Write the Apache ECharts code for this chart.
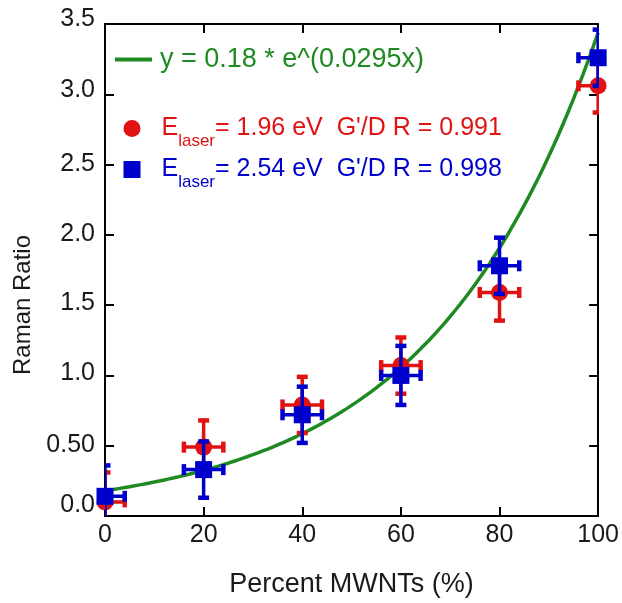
<!DOCTYPE html>
<html>
<head>
<meta charset="utf-8">
<script src="https://cdn.jsdelivr.net/npm/echarts@6/dist/echarts.min.js"></script>
<style>
  html, body { margin: 0; padding: 0; background: #fff; }
  #chart { width: 622px; height: 603px; }
</style>
</head>
<body>
<div id="chart"></div>
<script>
// Raman G'/D ratio versus MWNT content, measured at two laser energies
const percentMWNT = [0, 20, 40, 60, 80, 100];
const percentErr  = [4, 4, 4, 4, 4, 4];

const ratio196 = [0.10, 0.49, 0.79, 1.07, 1.59, 3.06];
const err196   = [0.21, 0.19, 0.20, 0.20, 0.20, 0.19];

const ratio254 = [0.14, 0.33, 0.72, 1.00, 1.78, 3.26];
const err254   = [0.22, 0.20, 0.20, 0.21, 0.20, 0.20];

const laserEnergy = [1.96, 2.54];
const corrR = ['0.991', '0.998'];

// exponential fit y = A * e^(B x)
const fitA = 0.18;
const fitB = 0.0295;

const xTickValues = [0, 20, 40, 60, 80, 100];
const yTickLabels = ['0.0', '0.50', '1.0', '1.5', '2.0', '2.5', '3.0', '3.5'];

const GREEN = '#1f8a22';
const RED = '#e01212';
const BLUE = '#0000cc';
const FONT = '"Liberation Sans", Arial, sans-serif';
const TEXT = '#1a1a1a';

// small upward nudges for individual y tick labels
const yLabelLift = [22, 2, 5, 5, 2, 0, 9, 10];

const fitCurve = [];
for (let x = 0; x <= 100; x += 1) {
  fitCurve.push([x, fitA * Math.exp(fitB * x)]);
}

function errorBarSeries(values, yErr, color, z) {
  return {
    type: 'custom',
    clip: true,
    silent: true,
    z: z,
    xAxisIndex: 0,
    yAxisIndex: 0,
    encode: { x: 0, y: 1 },
    data: percentMWNT.map((x, i) => [x, values[i], percentErr[i], yErr[i]]),
    renderItem(params, api) {
      const x = api.value(0), y = api.value(1);
      const dx = api.value(2), dy = api.value(3);
      const c = api.coord([x, y]);
      const top = api.coord([x, y + dy]);
      const bot = api.coord([x, y - dy]);
      const lft = api.coord([x - dx, y]);
      const rgt = api.coord([x + dx, y]);
      const cap = 5.5;
      const bar = { stroke: color, lineWidth: 3.5 };
      const capStyle = { stroke: color, lineWidth: 4.5 };
      return {
        type: 'group',
        children: [
          { type: 'line', shape: { x1: c[0], y1: top[1], x2: c[0], y2: bot[1] }, style: bar },
          { type: 'line', shape: { x1: lft[0], y1: c[1], x2: rgt[0], y2: c[1] }, style: bar },
          { type: 'line', shape: { x1: c[0] - cap, y1: top[1], x2: c[0] + cap, y2: top[1] }, style: capStyle },
          { type: 'line', shape: { x1: c[0] - cap, y1: bot[1], x2: c[0] + cap, y2: bot[1] }, style: capStyle },
          { type: 'line', shape: { x1: lft[0], y1: c[1] - cap, x2: lft[0], y2: c[1] + cap }, style: capStyle },
          { type: 'line', shape: { x1: rgt[0], y1: c[1] - cap, x2: rgt[0], y2: c[1] + cap }, style: capStyle }
        ]
      };
    }
  };
}

const frameAxis = {
  axisLine: { show: true, onZero: false, lineStyle: { color: '#000', width: 2 } },
  axisTick: { show: true, inside: true, length: 9, lineStyle: { color: '#000', width: 2 } },
  splitLine: { show: false }
};

function laserLegendText(i, color) {
  return {
    formatter: () => '{e|E}{sub|laser}{t|= ' + laserEnergy[i].toFixed(2) + ' eV  G\'/D R = ' + corrR[i] + '}',
    rich: {
      e: { fontSize: 25, fontFamily: FONT, color: color, lineHeight: 43, padding: [0, 0, 0, 16] },
      sub: { fontSize: 17, fontFamily: FONT, color: color, lineHeight: 17, verticalAlign: 'bottom' },
      t: { fontSize: 25, fontFamily: FONT, color: color, lineHeight: 43 }
    }
  };
}

const leg196 = laserLegendText(0, RED);
const leg254 = laserLegendText(1, BLUE);

const option = {
  backgroundColor: '#fff',
  animation: false,
  grid: { left: 105, right: 23, top: 24, bottom: 87, containLabel: false },
  xAxis: [
    Object.assign({
      type: 'value', min: 0, max: 100, interval: 20, position: 'bottom',
      name: 'Percent MWNTs (%)', nameLocation: 'middle', nameGap: 55,
      nameTextStyle: { fontSize: 27, fontFamily: FONT, color: TEXT },
      axisLabel: {
        fontSize: 25, fontFamily: FONT, color: TEXT, margin: 7,
        formatter: v => String(xTickValues[Math.round(v / 20)])
      }
    }, frameAxis),
    Object.assign({
      type: 'value', min: 0, max: 100, interval: 20, position: 'top',
      axisLabel: { show: false }
    }, frameAxis)
  ],
  yAxis: [
    Object.assign({
      type: 'value', min: 0, max: 3.5, interval: 0.5, position: 'left',
      name: 'Raman Ratio', nameLocation: 'middle', nameRotate: 90, nameGap: 70,
      nameTextStyle: { fontSize: 24, fontFamily: FONT, color: TEXT, padding: [0, 70, 0, 0] },
      axisLabel: {
        fontSize: 25, fontFamily: FONT, color: TEXT, margin: 10,
        formatter: v => {
          const i = Math.round(v / 0.5);
          return '{l' + i + '|' + yTickLabels[i] + '}';
        },
        rich: Object.fromEntries(yLabelLift.map((p, i) => ['l' + i, {
          fontSize: 25, fontFamily: FONT, color: TEXT, padding: [0, 0, p, 0]
        }]))
      }
    }, frameAxis),
    Object.assign({
      type: 'value', min: 0, max: 3.5, interval: 0.5, position: 'right',
      axisLabel: { show: false }
    }, frameAxis)
  ],
  legend: [
    {
      data: [{ name: 'fit', icon: 'rect' }],
      left: 115, top: 46, padding: 0, selectedMode: false,
      itemWidth: 37, itemHeight: 4,
      formatter: () => '{f|y = ' + fitA + ' * e^(' + fitB + 'x)}',
      textStyle: {
        rich: { f: { fontSize: 27, fontFamily: FONT, color: GREEN, lineHeight: 32, padding: [0, 0, 0, 3] } }
      }
    },
    {
      data: [{ name: 'E196', icon: 'circle' }],
      left: 123.5, top: 116, padding: 0, selectedMode: false,
      itemWidth: 17, itemHeight: 17,
      formatter: leg196.formatter,
      textStyle: { rich: leg196.rich }
    },
    {
      data: [{ name: 'E254', icon: 'rect' }],
      left: 123.5, top: 157, padding: 0, selectedMode: false,
      itemWidth: 17, itemHeight: 17,
      formatter: leg254.formatter,
      textStyle: { rich: leg254.rich }
    }
  ],
  series: [
    {
      name: 'fit', type: 'line', data: fitCurve, showSymbol: false, symbol: 'none',
      lineStyle: { color: GREEN, width: 3.5 }, itemStyle: { color: GREEN },
      z: 1, silent: true
    },
    errorBarSeries(ratio196, err196, RED, 2),
    {
      name: 'E196', type: 'scatter', symbol: 'circle', symbolSize: 17,
      data: percentMWNT.map((x, i) => [x, ratio196[i]]),
      itemStyle: { color: RED, opacity: 1 }, clip: false, z: 3
    },
    errorBarSeries(ratio254, err254, BLUE, 4),
    {
      name: 'E254', type: 'scatter', symbol: 'rect', symbolSize: 17,
      data: percentMWNT.map((x, i) => [x, ratio254[i]]),
      itemStyle: { color: BLUE, opacity: 1 }, clip: false, z: 5
    }
  ]
};

const chart = echarts.init(document.getElementById('chart'), null, { renderer: 'canvas' });
chart.setOption(option);
</script>
</body>
</html>
